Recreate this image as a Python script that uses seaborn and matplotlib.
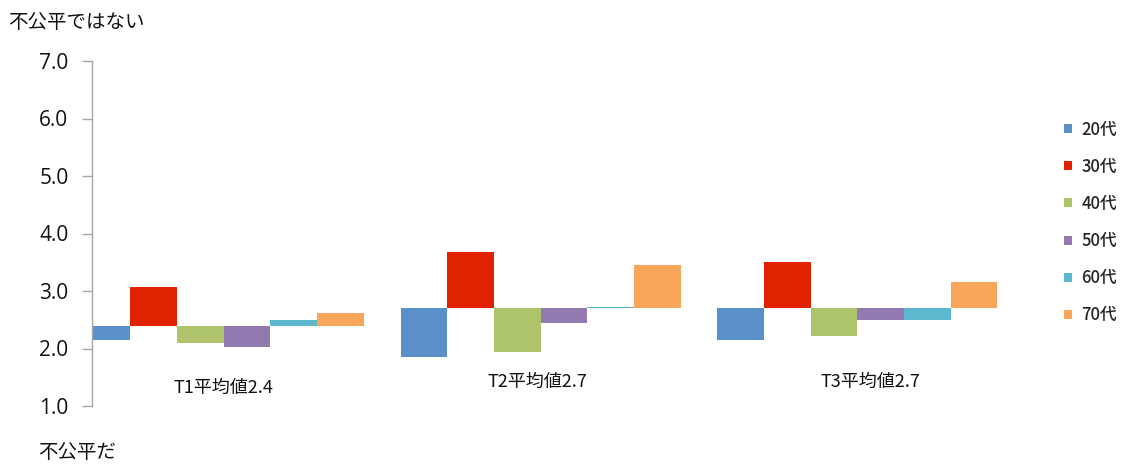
import numpy as np
import pandas as pd
import matplotlib
matplotlib.use("Agg")
import matplotlib.pyplot as plt
from matplotlib.patches import Patch
import seaborn as sns

# ---- data ----
groups = ["T1平均値2.4", "T2平均値2.7", "T3平均値2.7"]
baselines = [2.4, 2.7, 2.7]
ages = ["20代", "30代", "40代", "50代", "60代", "70代"]
v20 = [2.14, 1.86, 2.14]
v30 = [3.07, 3.67, 3.50]
v40 = [2.10, 1.94, 2.22]
v50 = [2.02, 2.45, 2.50]
v60 = [2.50, 2.715, 2.49]
v70 = [2.62, 3.46, 3.16]
yticks = [1.0, 2.0, 3.0, 4.0, 5.0, 6.0, 7.0]
colors = ["#5B8FC7", "#E02200", "#ADC46B", "#9279B0", "#5BB8CF", "#F9A65A"]

series = [v20, v30, v40, v50, v60, v70]
rows = []
for age, vals in zip(ages, series):
    for g, b, v in zip(groups, baselines, vals):
        rows.append({"group": g, "age": age, "dev": v - b})
df = pd.DataFrame(rows)

sns.set_theme(style="white")
plt.rcParams["font.family"] = ["Noto Sans CJK JP", "DejaVu Sans"]

fig = plt.figure(figsize=(11.27, 4.66), dpi=100)
W, H = 1127, 466
ax = fig.add_axes([92 / W, 1 - 406 / H, (1030 - 92) / W, (406 - 61) / H])

sns.barplot(data=df, x="group", y="dev", hue="age", order=groups, hue_order=ages,
            palette=colors, bottom=baselines, width=0.884, gap=0, errorbar=None,
            legend=False, ax=ax, saturation=1, linewidth=0)

ax.set_ylim(1.0, 7.0)
ax.set_xlim(-0.416, 2.545)
ax.set_yticks(yticks)
ax.set_yticklabels([f"{t:.1f}" for t in yticks], fontsize=15,
                   family=["Open Sans", "DejaVu Sans"], color="#111111")
ax.set_xticks([])
ax.set_xlabel("")
ax.set_ylabel("")

for s in ["top", "right", "bottom"]:
    ax.spines[s].set_visible(False)
ax.spines["left"].set_color("#A6A6A6")
ax.spines["left"].set_linewidth(1.0)
ax.tick_params(axis="y", which="major", left=True, length=7, width=1.0,
               color="#A6A6A6", pad=10, direction="out")

# group labels
label_y = [1.32, 1.42, 1.42]
label_dx = [0.0, -0.01, 0.04]
for i, (g, ly, dx) in enumerate(zip(groups, label_y, label_dx)):
    ax.text(i + dx, ly, g, ha="center", va="center", fontsize=13, color="#111111")

# axis end captions
fig.text(8 / W, 1 - 22 / H, "不公平ではない", ha="left", va="center", fontsize=14, color="#111111")
fig.text(38 / W, 1 - 452 / H, "不公平だ", ha="left", va="center", fontsize=14, color="#111111")

handles = [Patch(facecolor=c, edgecolor="none") for c in colors]
fig.legend(handles, ages, loc="center left", bbox_to_anchor=(1064 / W, 1 - 222.5 / H),
           frameon=False, handlelength=0.45, handleheight=0.45,
           handletextpad=0.6, labelspacing=1.15, borderpad=0, borderaxespad=0,
           prop={"size": 12, "weight": "medium", "family": ["Noto Sans CJK JP", "DejaVu Sans"]})

fig.savefig("out.png", dpi=100)
